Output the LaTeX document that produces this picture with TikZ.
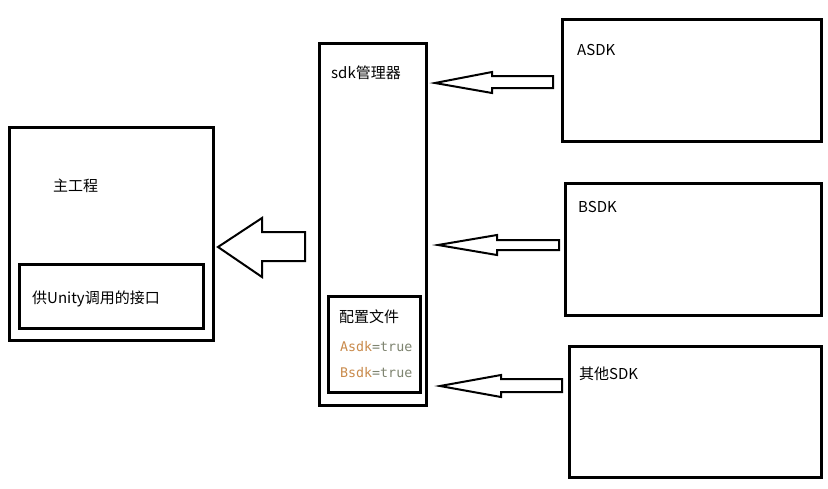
\documentclass[tikz,border=0pt]{standalone}
\usepackage{fontspec}
\setmainfont{Noto Sans CJK SC}
\newfontfamily\monof{DejaVu Sans Mono}
\definecolor{orng}{HTML}{C98A4B}
\definecolor{olv}{HTML}{7E8470}
\begin{document}
\begin{tikzpicture}[x=1pt,y=-1pt,
  box/.style={draw=black,line width=3pt},
  arr/.style={draw=black,line width=2pt,line join=miter,fill=white},
  lbl/.style={anchor=west,inner sep=0pt,font=\fontsize{15}{17}\selectfont},
  cfg/.style={anchor=west,inner sep=0pt,font=\monof\fontsize{13.3}{15}\selectfont}]
\useasboundingbox[fill=white] (0,0) rectangle (828,488);
% main project
\draw[box] (9,127) rectangle (213,340);
\draw[box] (19,264) rectangle (203,328);
\node[lbl] (mainT) at (53,186) {主工程};
\node[lbl] (iface) at (32,299) {供Unity调用的接口};
% manager
\draw[box] (319,43) rectangle (426,405);
\node[lbl] (mgrT) at (331,73) {sdk管理器};
\draw[box] (328,296) rectangle (420,392);
\node[lbl] (cfgT) at (339,317) {配置文件};
\node[cfg] (a) at (340,347) {\textcolor{orng}{Asdk}\textcolor{olv}{=true}};
\node[cfg] (b) at (340,373) {\textcolor{orng}{Bsdk}\textcolor{olv}{=true}};
% SDK boxes
\draw[box] (562,19) rectangle (821,141);
\node[lbl] (asdk) at (577,50) {ASDK};
\draw[box] (565,183) rectangle (821,315);
\node[lbl] (bsdk) at (578,207) {BSDK};
\draw[box] (569,346) rectangle (821,477);
\node[lbl] (other) at (579,374) {其他SDK};
% big arrow
\draw[arr] (218,247) -- (262,218) -- (262,232) -- (305,232) -- (305,261) -- (262,261) -- (262,277) -- cycle;
% arrow 1
\draw[arr] (435,83) -- (492,72) -- (492,76) -- (553,76) -- (553,88) -- (492,88) -- (492,93) -- cycle;
% arrow 2
\draw[arr] (438,245) -- (497,235) -- (497,240) -- (559,240) -- (559,250) -- (497,250) -- (497,255) -- cycle;
% arrow 3
\draw[arr] (440,386) -- (501,375) -- (501,379) -- (562,379) -- (562,392) -- (501,392) -- (501,397) -- cycle;
\end{tikzpicture}
\end{document}
